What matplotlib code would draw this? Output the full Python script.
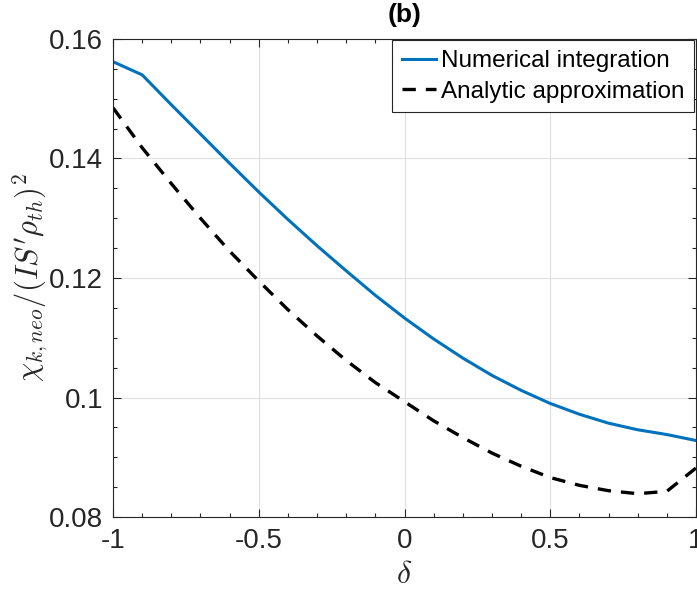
import matplotlib
matplotlib.use("Agg")
import matplotlib.pyplot as plt
from matplotlib.ticker import MultipleLocator

delta = [-1.0, -0.9, -0.8, -0.7, -0.6, -0.5, -0.4, -0.3, -0.2, -0.1, 0.0,
         0.1, 0.2, 0.3, 0.4, 0.5, 0.6, 0.7, 0.8, 0.9, 1.0]
numerical = [0.1562, 0.1540, 0.1490, 0.1441, 0.1392, 0.1344, 0.1298, 0.1254,
             0.1212, 0.1171, 0.1133, 0.1098, 0.1066, 0.1037, 0.1012, 0.0990,
             0.0972, 0.0957, 0.0946, 0.0938, 0.0928]
analytic = [0.1485, 0.1418, 0.1358, 0.1300, 0.1245, 0.1195, 0.1147, 0.1103,
            0.1062, 0.1025, 0.0993, 0.0961, 0.0933, 0.0907, 0.0885, 0.0866,
            0.0853, 0.0844, 0.0839, 0.0843, 0.0882]
xticks = [-1, -0.5, 0, 0.5, 1]
xticklabels = ["-1", "-0.5", "0", "0.5", "1"]
yticks = [0.08, 0.10, 0.12, 0.14, 0.16]
yticklabels = ["0.08", "0.1", "0.12", "0.14", "0.16"]

plt.rcParams['font.family'] = ['Liberation Sans', 'DejaVu Sans']
plt.rcParams['mathtext.fontset'] = 'cm'

dark = (0.15, 0.15, 0.15)
fig = plt.figure(figsize=(6.97, 5.92), dpi=100)
ax = fig.add_axes([113/697, 1 - 517/592, 583/697, 478/592])

ax.plot(delta, numerical, color='#0072BD', lw=2.2, label='Numerical integration')
ax.plot(delta, analytic, color='black', lw=2.4, linestyle=(0, (4, 3)),
        label='Analytic approximation')

ax.set_xlim(-1, 1)
ax.set_ylim(0.08, 0.16)
ax.set_xticks(xticks)
ax.set_xticklabels(xticklabels)
ax.set_yticks(yticks)
ax.set_yticklabels(yticklabels)
ax.xaxis.set_minor_locator(MultipleLocator(0.1))
ax.yaxis.set_minor_locator(MultipleLocator(0.005))
ax.tick_params(which='both', direction='in', top=True, right=True,
               color=dark, labelcolor=dark, labelsize=20, width=0.8)
ax.tick_params(which='major', length=5.5)
ax.tick_params(which='minor', length=3)
ax.tick_params(axis='x', pad=8)
ax.tick_params(axis='y', pad=7)
for s in ax.spines.values():
    s.set_color(dark)
    s.set_linewidth(0.8)
ax.grid(True, which='major', color=(0.87, 0.87, 0.87), lw=0.8)
ax.set_axisbelow(True)

ax.set_title('(b)', fontsize=19, fontweight='bold', color='black', pad=12)
ax.set_xlabel(r'$\delta$', fontsize=23, color=dark, labelpad=4)
ax.set_ylabel(r"$\chi_{k,neo}/(IS'\rho_{th})^2$", fontsize=22, color=dark)
ax.yaxis.set_label_coords(-0.106, 0.5)

leg = ax.legend(loc='upper right', bbox_to_anchor=(0.997, 0.997), fontsize=17.5,
                frameon=True, fancybox=False, framealpha=1, borderaxespad=0,
                handlelength=1.4, handletextpad=0.2, labelspacing=0.35,
                borderpad=0.4)
leg.get_frame().set_edgecolor(dark)
leg.get_frame().set_linewidth(0.8)

fig.savefig('out.png', dpi=100)
